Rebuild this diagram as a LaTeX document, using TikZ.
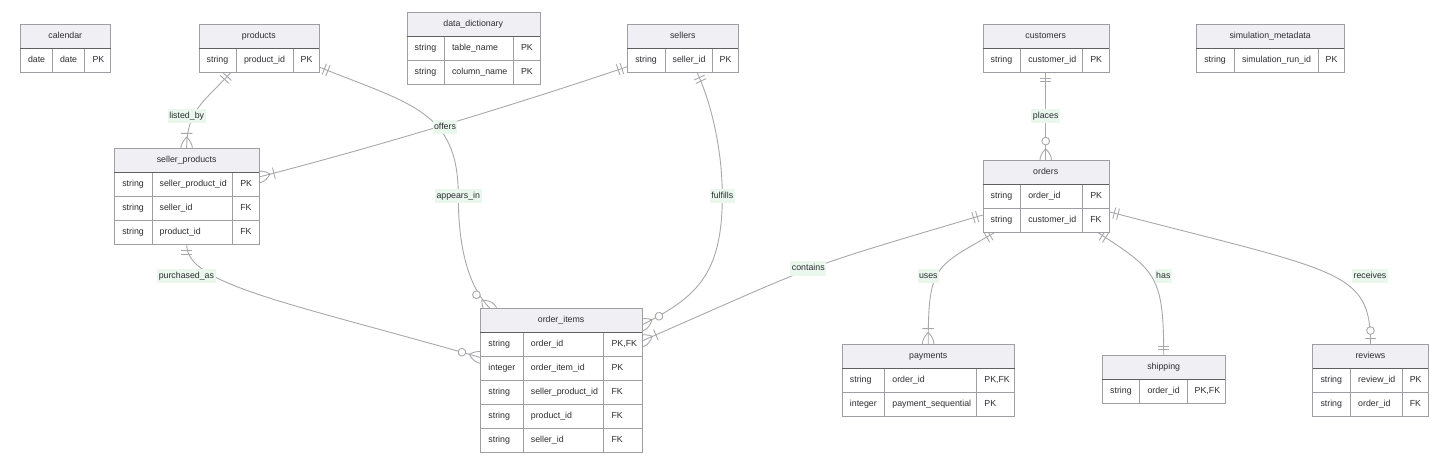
\documentclass[tikz,border=0pt]{standalone}
\usepackage{fontspec}
\setmainfont{Liberation Sans}
\usetikzlibrary{positioning}
\definecolor{erLine}{RGB}{158,158,164}
\definecolor{erSep}{RGB}{95,95,100}
\definecolor{erHead}{RGB}{240,240,244}
\definecolor{erRel}{RGB}{168,168,172}
\definecolor{erLbl}{RGB}{233,247,237}
\definecolor{erText}{RGB}{45,45,50}
\pgfdeclarelayer{bg}
\pgfsetlayers{bg,main}
% one attribute row: name, node above, type, field, key
\newcommand{\erow}[5]{%
  \node[c1, anchor=north west] (#1a) at (#2.south west) {#3};
  \node[c2, right=0pt of #1a] (#1b) {#4};
  \node[c3, right=0pt of #1b] (#1c) {#5};}

\begin{document}
\begin{tikzpicture}[x=1pt, y=1pt,
  font=\fontsize{8.8}{10}\selectfont, text=erText,
  hd/.style={draw=erLine, fill=erHead, minimum width=#1, minimum height=24pt, inner sep=0pt, outer sep=0pt, anchor=north west, text height=6.5pt, text depth=2pt},
  cl/.style={draw=erLine, fill=white, text width=#1, minimum height=24pt, inner xsep=8pt, inner ysep=0pt, outer sep=0pt, align=left, text height=6.5pt, text depth=2pt},
  sep/.style={draw=erSep, line width=0.9pt},
  rel/.style={draw=erRel, line width=0.9pt},
  mk/.style={draw=erRel, line width=0.9pt},
  lbl/.style={fill=erLbl, inner xsep=1.5pt, inner ysep=3pt, text height=6.5pt, text depth=2pt},
  onlyone/.pic={\draw[mk] (5.76,-5.76) -- (5.76,5.76) (9.6,-5.76) -- (9.6,5.76);},
  zeroone/.pic={\draw[mk] (5.76,-5.76) -- (5.76,5.76);
    \draw[mk, fill=white] (13.44,0) circle (3.84pt);},
  onemany/.pic={\draw[mk] (-11.52,0) .. controls (-3.84,7.68) and (3.84,7.68) .. (11.52,0)
    .. controls (3.84,-7.68) and (-3.84,-7.68) .. (-11.52,0) (15.36,-5.76) -- (15.36,5.76);},
  zeromany/.pic={\draw[mk] (-11.52,0) .. controls (-3.84,7.68) and (3.84,7.68) .. (11.52,0)
    .. controls (3.84,-7.68) and (-3.84,-7.68) .. (-11.52,0);
    \draw[mk, fill=white] (19.2,0) circle (3.84pt);},
]
\useasboundingbox (0,0) rectangle (1452,-462);

% top row of tables
\begin{scope}[c1/.style={cl=16pt}, c2/.style={cl=16.5pt}, c3/.style={cl=10pt}]
  \node[hd=90.5pt] (cal) at (20,-24.3) {calendar};
  \erow{cal1}{cal}{date}{date}{PK}
  \draw[sep] (cal.south west) -- (cal.south east);
\end{scope}
\begin{scope}[c1/.style={cl=21.3pt}, c2/.style={cl=40.7pt}, c3/.style={cl=10.3pt}]
  \node[hd=120.3pt] (pr) at (198.7,-24.3) {products};
  \erow{pr1}{pr}{string}{product\_id}{PK}
  \draw[sep] (pr.south west) -- (pr.south east);
\end{scope}
\begin{scope}[c1/.style={cl=21.3pt}, c2/.style={cl=53pt}, c3/.style={cl=10.7pt}]
  \node[hd=133pt] (dd) at (406.7,-12.7) {data\_dictionary};
  \erow{dd1}{dd}{string}{table\_name}{PK}
  \erow{dd2}{dd1a}{string}{column\_name}{PK}
  \draw[sep] (dd.south west) -- (dd.south east);
\end{scope}
\begin{scope}[c1/.style={cl=21.4pt}, c2/.style={cl=31pt}, c3/.style={cl=10.6pt}]
  \node[hd=111pt] (sl) at (627.3,-24.3) {sellers};
  \erow{sl1}{sl}{string}{seller\_id}{PK}
  \draw[sep] (sl.south west) -- (sl.south east);
\end{scope}
\begin{scope}[c1/.style={cl=21.6pt}, c2/.style={cl=46pt}, c3/.style={cl=10.4pt}]
  \node[hd=126pt] (cu) at (982.7,-24.3) {customers};
  \erow{cu1}{cu}{string}{customer\_id}{PK}
  \draw[sep] (cu.south west) -- (cu.south east);
\end{scope}
\begin{scope}[c1/.style={cl=21.7pt}, c2/.style={cl=67.7pt}, c3/.style={cl=10.3pt}]
  \node[hd=147.7pt] (sm) at (1196.3,-24.3) {simulation\_metadata};
  \erow{sm1}{sm}{string}{simulation\_run\_id}{PK}
  \draw[sep] (sm.south west) -- (sm.south east);
\end{scope}

% middle row
\begin{scope}[c1/.style={cl=21.4pt}, c2/.style={cl=64.6pt}, c3/.style={cl=10.7pt}]
  \node[hd=144.7pt] (sp) at (114.3,-148.7) {seller\_products};
  \erow{sp1}{sp}{string}{seller\_product\_id}{PK}
  \erow{sp2}{sp1a}{string}{seller\_id}{FK}
  \erow{sp3}{sp2a}{string}{product\_id}{FK}
  \draw[sep] (sp.south west) -- (sp.south east);
\end{scope}
\begin{scope}[c1/.style={cl=21.6pt}, c2/.style={cl=46pt}, c3/.style={cl=10.4pt}]
  \node[hd=126pt] (or) at (982.7,-160.3) {orders};
  \erow{or1}{or}{string}{order\_id}{PK}
  \erow{or2}{or1a}{string}{customer\_id}{FK}
  \draw[sep] (or.south west) -- (or.south east);
\end{scope}

% bottom row
\begin{scope}[c1/.style={cl=26.5pt}, c2/.style={cl=64.7pt}, c3/.style={cl=22.2pt}]
  \node[hd=161.4pt] (oi) at (480.4,-308.3) {order\_items};
  \erow{oi1}{oi}{string}{order\_id}{PK,FK}
  \erow{oi2}{oi1a}{integer}{order\_item\_id}{PK}
  \erow{oi3}{oi2a}{string}{seller\_product\_id}{FK}
  \erow{oi4}{oi3a}{string}{product\_id}{FK}
  \erow{oi5}{oi4a}{string}{seller\_id}{FK}
  \draw[sep] (oi.south west) -- (oi.south east);
\end{scope}
\begin{scope}[c1/.style={cl=26.5pt}, c2/.style={cl=76pt}, c3/.style={cl=22.1pt}]
  \node[hd=172.6pt] (py) at (841.9,-344) {payments};
  \erow{py1}{py}{string}{order\_id}{PK,FK}
  \erow{py2}{py1a}{integer}{payment\_sequential}{PK}
  \draw[sep] (py.south west) -- (py.south east);
\end{scope}
\begin{scope}[c1/.style={cl=21.3pt}, c2/.style={cl=31.2pt}, c3/.style={cl=22.5pt}]
  \node[hd=123pt] (sh) at (1102.2,-355.7) {shipping};
  \erow{sh1}{sh}{string}{order\_id}{PK,FK}
  \draw[sep] (sh.south west) -- (sh.south east);
\end{scope}
\begin{scope}[c1/.style={cl=21.7pt}, c2/.style={cl=35.6pt}, c3/.style={cl=10.6pt}]
  \node[hd=115.9pt] (rv) at (1312.5,-344) {reviews};
  \erow{rv1}{rv}{string}{review\_id}{PK}
  \erow{rv2}{rv1a}{string}{order\_id}{FK}
  \draw[sep] (rv.south west) -- (rv.south east);
\end{scope}

% attachment points
\coordinate (prB) at ([xshift=32.3pt]pr1a.south west);
\coordinate (prR) at ([yshift=-6.7pt]pr1c.east);
\coordinate (slL) at ([yshift=-6.4pt]sl1a.west);
\coordinate (slB) at ([xshift=69.7pt]sl1a.south west);
\coordinate (cuB) at ([xshift=63pt]cu1a.south west);
\coordinate (orL) at ([yshift=5.3pt]or2a.west);
\coordinate (orR) at ([yshift=8.6pt]or2c.east);
\coordinate (orBL) at ([xshift=12.3pt]or2a.south west);
\coordinate (orBR) at ([xshift=-11.2pt]or2c.south east);
\coordinate (spB) at ([xshift=72.4pt]sp3a.south west);
\coordinate (spR) at ([yshift=7.7pt]sp1c.east);
\coordinate (oiT) at ([xshift=9.6pt]oi.north west);
\coordinate (oiR1) at ([yshift=-4.7pt]oi.east);
\coordinate (oiR2) at ([yshift=3.3pt]oi1c.east);
\coordinate (oiL) at ([yshift=-13.2pt]oi1a.west);

% relationship labels
\node[lbl] (lb) at (186.7,-116) {listed\_by};
\node[lbl] (ap) at (458.3,-196) {appears\_in};
\node[lbl] (of) at (445,-127) {offers};
\node[lbl] (fu) at (722.3,-196) {fulfills};
\node[lbl] (co) at (808.3,-268.3) {contains};
\node[lbl] (pl) at (1045.7,-116) {places};
\node[lbl] (us) at (928.3,-276) {uses};
\node[lbl] (ha) at (1163.3,-276) {has};
\node[lbl] (re) at (1370,-276) {receives};
\node[lbl] (pu) at (186.4,-276) {purchased\_as};

% relationships, under the tables
\begin{pgfonlayer}{bg}
  \draw[rel] (prB) .. controls +(-27,-29.6) and +(0,38.7) .. (sp.north);
  \draw[rel] (prR) .. controls +(92.7,-37.5) and +(0,85) .. (ap.center)
    .. controls +(0,-45) and +(-24,24) .. (oiT);
  \draw[rel] (slL) .. controls +(-113.6,-38.5) and +(116.3,29.9) .. (spR);
  \draw[rel] (slB) .. controls +(12.7,-27.2) and +(0,50) .. (fu.center)
    .. controls +(0,-80) and +(53.5,27.2) .. (oiR1);
  \draw[rel] (orL) .. controls +(-191.8,-56.8) and +(183.2,80) .. (oiR2);
  \draw[rel] (cuB) -- (or.north);
  \draw[rel] (orBL) .. controls +(-60,-35) and +(0,80) .. (py.north);
  \draw[rel] (orBR) .. controls +(58.7,-38.1) and +(0,80) .. (sh.north);
  \draw[rel] (orR) .. controls +(231.7,-60.3) and +(0,74) .. (rv.north);
  \draw[rel] (spB) .. controls +(0,-40) and +(-192,55) .. (oiL);
  % cardinality marks
  \pic[rotate=227.6] at (prB) {onlyone};
  \pic[rotate=90] at (sp.north) {onemany};
  \pic[rotate=-22] at (prR) {onlyone};
  \pic[rotate=135] at (oiT) {zeromany};
  \pic[rotate=198.7] at (slL) {onlyone};
  \pic[rotate=14.4] at (spR) {onemany};
  \pic[rotate=-65] at (slB) {onlyone};
  \pic[rotate=27] at (oiR1) {zeromany};
  \pic[rotate=196.5] at (orL) {onlyone};
  \pic[rotate=23.6] at (oiR2) {onemany};
  \pic[rotate=-90] at (cuB) {onlyone};
  \pic[rotate=90] at (or.north) {zeromany};
  \pic[rotate=210.3] at (orBL) {onlyone};
  \pic[rotate=90] at (py.north) {onemany};
  \pic[rotate=-33] at (orBR) {onlyone};
  \pic[rotate=90] at (sh.north) {onlyone};
  \pic[rotate=-14.6] at (orR) {onlyone};
  \pic[rotate=90] at (rv.north) {zeroone};
  \pic[rotate=-90] at (spB) {onlyone};
  \pic[rotate=164] at (oiL) {zeromany};
\end{pgfonlayer}
\end{tikzpicture}
\end{document}
